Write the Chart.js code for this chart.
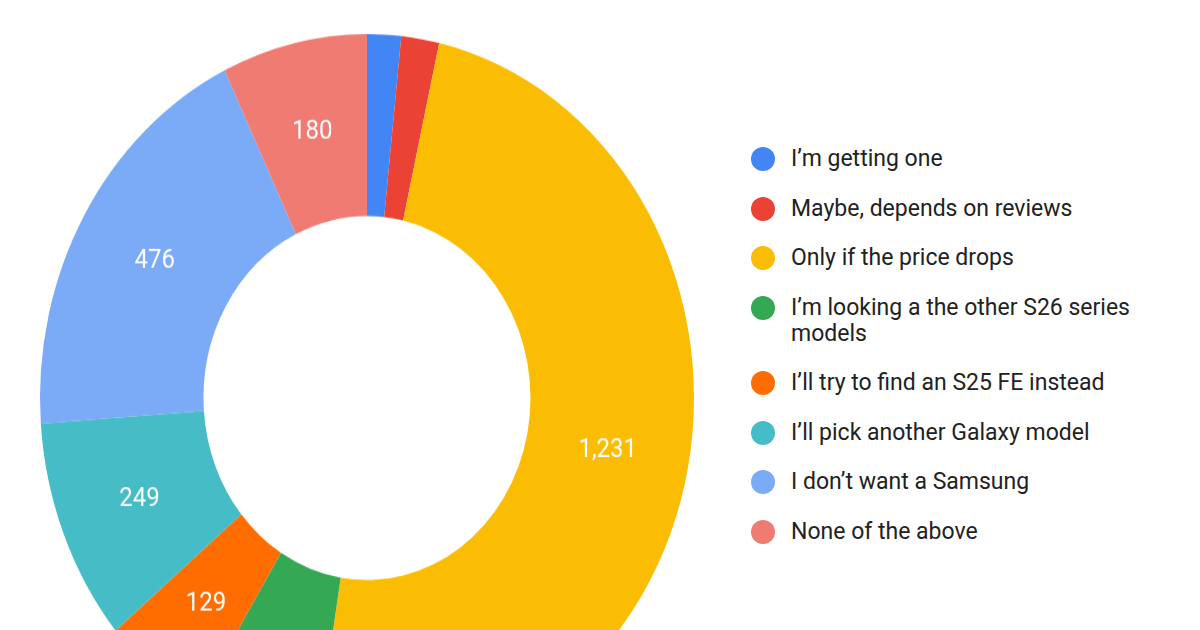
<!DOCTYPE html>
<html><head><meta charset="utf-8">
<script src="https://cdn.jsdelivr.net/npm/chart.js@4"></script>
<style>
html,body{margin:0;width:1200px;height:630px;overflow:hidden;background:#fff;font-family:Roboto,"Liberation Sans",Arial,sans-serif}
#wrap{position:absolute;left:17px;top:48px;width:700px;height:700px;transform:scaleY(1.113);transform-origin:50% 50%}
#legend{position:absolute;left:751px;top:146px;color:#222;font-size:23px;line-height:26px}
.item{position:relative;padding-left:40px;margin-bottom:23.5px;width:380px}
.dot{position:absolute;left:0;top:1px;width:24px;height:24px;border-radius:50%}
</style></head><body>
<div id="wrap"><canvas id="c" width="700" height="700"></canvas></div>
<div id="legend"></div>
<script>
const categories=["I\u2019m getting one","Maybe, depends on reviews","Only if the price drops","I\u2019m looking a the other S26 series models","I\u2019ll try to find an S25 FE instead","I\u2019ll pick another Galaxy model","I don\u2019t want a Samsung","None of the above"];
const votes=[42,47,1231,157,129,249,476,180];
const colors=["#4285f4","#ea4335","#fbbc04","#34a853","#ff6d01","#46bdc6","#7baaf7","#f07b72"];
const lg=document.getElementById('legend');
categories.forEach((c,i)=>{const d=document.createElement('div');d.className='item';d.innerHTML='<span class="dot" style="background:'+colors[i]+'"></span>'+c;lg.appendChild(d);});
const labelPlugin={id:'lbl',afterDatasetsDraw(chart){const ctx=chart.ctx;const meta=chart.getDatasetMeta(0);ctx.save();ctx.fillStyle='#fff';ctx.font='24px Roboto, "Liberation Sans", Arial';ctx.textAlign='center';ctx.textBaseline='middle';
meta.data.forEach((a,i)=>{if(votes[i]<100)return;const p=a.tooltipPosition();ctx.fillText(votes[i].toLocaleString('en-US'),p.x,p.y);});ctx.restore();}};
new Chart(document.getElementById('c'),{type:'doughnut',data:{labels:categories,datasets:[{data:votes,backgroundColor:colors,borderWidth:0}]},
options:{responsive:false,animation:false,cutout:'50%',layout:{padding:23},plugins:{legend:{display:false},tooltip:{enabled:false}}},plugins:[labelPlugin]});
</script></body></html>
